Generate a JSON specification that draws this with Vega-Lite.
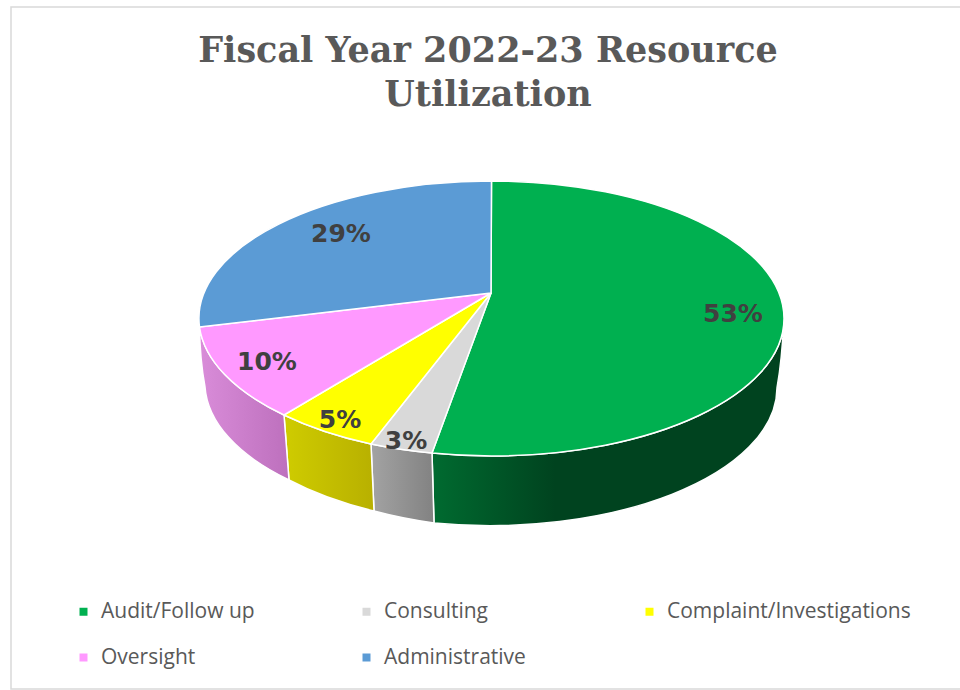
{
"$schema":"https://vega.github.io/schema/vega-lite/v6.json",
"width":960,"height":690,"padding":0,"autosize":{"type":"none"},
"background":"white",
"config":{"view":{"stroke":null}},
"title":{"text":["Fiscal Year 2022-23 Resource","Utilization"],"font":"DejaVu Serif","fontWeight":"bold","fontSize":35,"color":"#595959","lineHeight":44,"anchor":"middle","offset":-113,"dx":8},
"data":{"values":[
{"category":"Audit/Follow up","share":0.53},
{"category":"Consulting","share":0.03},
{"category":"Complaint/Investigations","share":0.05},
{"category":"Oversight","share":0.10},
{"category":"Administrative","share":0.29}
]},
"layer":[
{"data":{"values":[{"part":"frame"}]},
 "mark":{"type":"point","shape":"M480 -338 L-469 -338 L-469 344 L480 344","size":4,"filled":false,"fill":"transparent","stroke":"#d9d9d9","strokeWidth":1.5,"opacity":1},
 "encoding":{}},
{"transform":[{"filter":"datum.category === 'Audit/Follow up'"}],
 "mark":{"type":"point","size":4,"stroke":"white","strokeWidth":1.5,"opacity":1,"shape":"M304 -26.5 A292.5 137.5 0 0 1 11.5 111 A292.5 137.5 0 0 1 -48 108 L-46 178 A287 138 0 0 0 297 43 Q302 15 304 -26.5 Z",
  "fill":{"gradient":"linear","x1":0,"y1":0,"x2":1,"y2":0,"stops":[{"offset":0,"color":"#006b30"},{"offset":0.35,"color":"#00431f"},{"offset":1,"color":"#00431f"}]}},
 "encoding":{}},
{"transform":[{"filter":"datum.category === 'Consulting'"}],
 "mark":{"type":"point","size":4,"stroke":"white","strokeWidth":1.5,"opacity":1,"shape":"M-48 108 A292.5 137.5 0 0 1 -109 99 L-106 166 A287 138 0 0 0 -46 178 Z",
  "fill":{"gradient":"linear","x1":0,"y1":0,"x2":1,"y2":0,"stops":[{"offset":0,"color":"#a3a3a3"},{"offset":1,"color":"#828282"}]}},
 "encoding":{}},
{"transform":[{"filter":"datum.category === 'Complaint/Investigations'"}],
 "mark":{"type":"point","size":4,"stroke":"white","strokeWidth":1.5,"opacity":1,"shape":"M-109 99 A292.5 137.5 0 0 1 -196 70 L-191 135 A287 138 0 0 0 -106 166 Z",
  "fill":{"gradient":"linear","x1":0,"y1":0,"x2":1,"y2":0,"stops":[{"offset":0,"color":"#cfcc00"},{"offset":1,"color":"#b8b000"}]}},
 "encoding":{}},
{"transform":[{"filter":"datum.category === 'Oversight'"}],
 "mark":{"type":"point","size":4,"stroke":"white","strokeWidth":1.5,"opacity":1,"shape":"M-196 70 A292.5 137.5 0 0 1 -280.5 -18 Q-280 15 -275 42 A287 138 0 0 0 -191 135 Z",
  "fill":{"gradient":"linear","x1":0,"y1":0,"x2":1,"y2":0,"stops":[{"offset":0,"color":"#d98cd9"},{"offset":1,"color":"#bd70bd"}]}},
 "encoding":{}},
{"transform":[{"filter":"datum.category === 'Audit/Follow up'"}],
 "mark":{"type":"point","filled":true,"fill":"#00b050","size":4,"stroke":"white","strokeWidth":1.5,"opacity":1,"shape":"M11 -52 L11.5 -164 A292.5 137.5 0 0 1 304 -26.5 A292.5 137.5 0 0 1 11.5 111 A292.5 137.5 0 0 1 -48 108 Z"},"encoding":{}},
{"transform":[{"filter":"datum.category === 'Consulting'"}],
 "mark":{"type":"point","filled":true,"fill":"#d9d9d9","size":4,"stroke":"white","strokeWidth":1.5,"opacity":1,"shape":"M11 -52 L-48 108 A292.5 137.5 0 0 1 -109 99 Z"},"encoding":{}},
{"transform":[{"filter":"datum.category === 'Complaint/Investigations'"}],
 "mark":{"type":"point","filled":true,"fill":"#ffff00","size":4,"stroke":"white","strokeWidth":1.5,"opacity":1,"shape":"M11 -52 L-109 99 A292.5 137.5 0 0 1 -196 70 Z"},"encoding":{}},
{"transform":[{"filter":"datum.category === 'Oversight'"}],
 "mark":{"type":"point","filled":true,"fill":"#ff99ff","size":4,"stroke":"white","strokeWidth":1.5,"opacity":1,"shape":"M11 -52 L-196 70 A292.5 137.5 0 0 1 -280.5 -18 Z"},"encoding":{}},
{"transform":[{"filter":"datum.category === 'Administrative'"}],
 "mark":{"type":"point","filled":true,"fill":"#5b9bd5","size":4,"stroke":"white","strokeWidth":1.5,"opacity":1,"shape":"M11 -52 L-280.5 -18 A292.5 137.5 0 0 1 11.5 -164 Z"},"encoding":{}},
{"mark":{"type":"square","size":1,"opacity":0},
 "encoding":{
  "color":{"field":"category","type":"nominal","sort":null,"scale":{"domain":["Audit/Follow up","Consulting","Complaint/Investigations","Oversight","Administrative"],"range":["#00b050","#d9d9d9","#ffff00","#ff99ff","#5b9bd5"]},
   "legend":{"title":null,"orient":"none","legendX":73,"legendY":601,"direction":"horizontal","columns":3,"gridAlign":"all","symbolType":"square","symbolSize":64,"symbolOpacity":1,"symbolStrokeWidth":0,"labelFont":"Open Sans","labelFontSize":21,"labelColor":"#595959","labelOffset":7,"columnPadding":11,"rowPadding":24,"labelLimit":300}}
 }},
{"mark":{"type":"text","font":"DejaVu Sans","fontWeight":"bold","fontSize":25,"color":"#404040","align":"center","baseline":"middle"},
 "encoding":{
  "text":{"field":"share","type":"quantitative","format":".0%"},
  "x":{"field":"share","type":"quantitative","axis":null,"scale":{"zero":false,"nice":false,"domain":[0.03,0.05,0.10,0.29,0.53],"range":[406,340,267,341,733]}},
  "y":{"field":"share","type":"quantitative","axis":null,"scale":{"zero":false,"nice":false,"domain":[0.03,0.05,0.10,0.29,0.53],"range":[441,420,362,234,314]}}
 }}
]
}
